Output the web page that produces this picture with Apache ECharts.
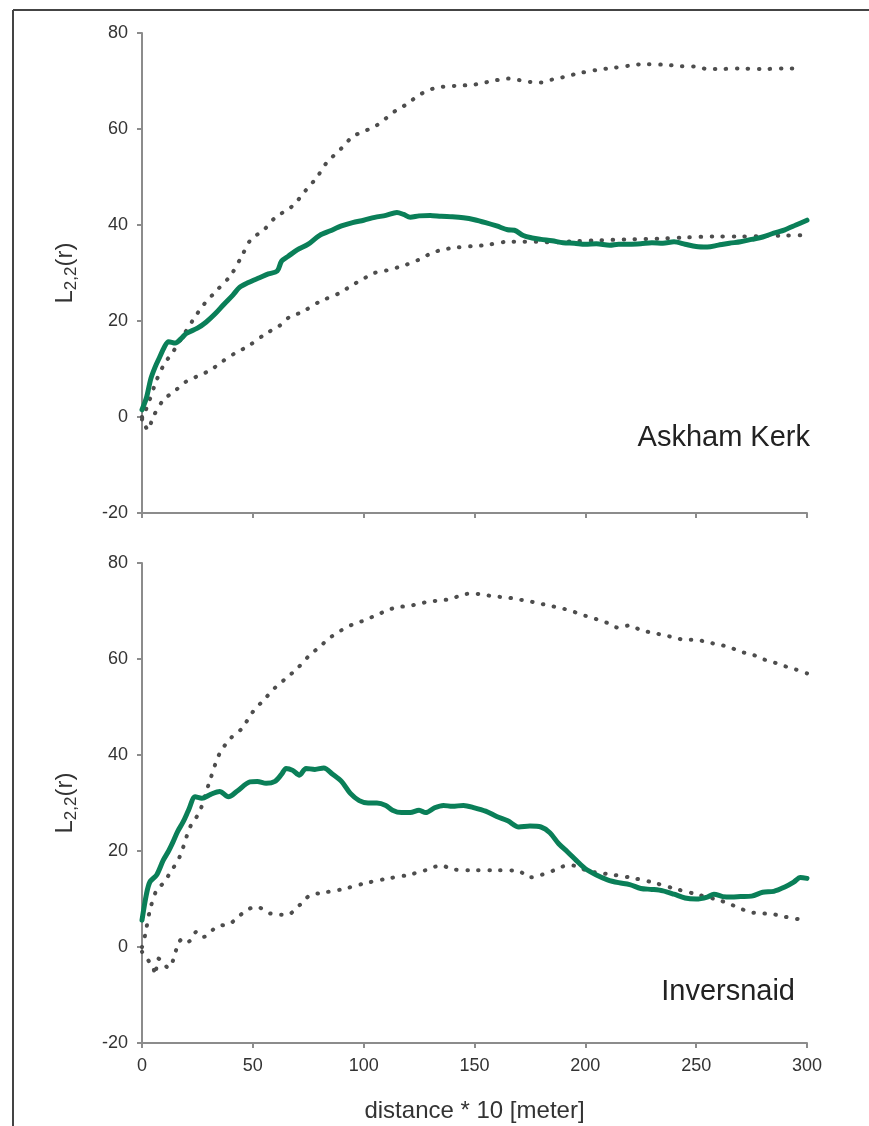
<!DOCTYPE html>
<html>
<head>
<meta charset="utf-8">
<script src="https://cdn.jsdelivr.net/npm/echarts@6/dist/echarts.min.js"></script>
<style>
html,body{margin:0;padding:0;background:#fff;}
#chart{width:869px;height:1126px;}
</style>
</head>
<body>
<div id="chart"></div>
<script>
const xTicks = [0, 50, 100, 150, 200, 250, 300];
const yTicks = [-20, 0, 20, 40, 60, 80];
const panelNames = ['Askham Kerk', 'Inversnaid'];

const askhamObserved = [[0,1.5],[2,4],[4,8],[6,10.5],[8,12.5],[10,14.5],[12,15.7],[15,15.4],[18,16.5],[20,17.4],[25,18.5],[29,19.8],[33,21.5],[37,23.5],[41,25.4],[44,27],[48,28],[53,29],[57,29.8],[61,30.4],[63,32.5],[66,33.5],[70,34.8],[75,36],[80,37.8],[85,38.8],[90,39.8],[95,40.5],[100,41],[105,41.6],[110,42],[115,42.6],[118,42.2],[121,41.6],[125,41.9],[130,42],[135,41.8],[140,41.7],[145,41.5],[150,41.1],[155,40.5],[160,39.8],[165,39],[168,38.9],[172,37.8],[176,37.3],[180,37],[185,36.7],[190,36.3],[195,36.2],[200,36],[205,36.1],[211,35.8],[215,36],[220,36],[225,36.1],[230,36.3],[235,36.2],[240,36.5],[245,36],[250,35.5],[255,35.4],[260,35.8],[265,36.2],[270,36.5],[275,37],[280,37.5],[285,38.3],[290,39],[295,40],[300,41]];
const askhamUpper = [[0,-0.5],[3,3],[6.6,7.7],[10,11],[14,13.6],[18,16.5],[23,20.2],[28,23.5],[34,26.5],[40,29.5],[45,33.5],[49,36.9],[55,39],[60,41.5],[68,44],[74,47.3],[79,50],[83,52.8],[90,56],[95,58.4],[100,59.5],[105,60.5],[110,62.2],[115,64],[120,65.3],[124,66.8],[128,67.8],[132,68.5],[136,68.8],[142,69],[149,69.2],[153,69.5],[158,70],[165,70.5],[170,70.2],[175,69.8],[180,69.7],[185,70.3],[190,70.8],[197,71.6],[205,72.3],[212,72.7],[220,73.2],[226,73.5],[235,73.4],[243,73.1],[250,73],[255,72.5],[260,72.5],[270,72.6],[280,72.5],[290,72.6],[297,72.6]];
const askhamLower = [[0,0],[2.7,-2.7],[5,0],[9.6,3.5],[15,5.5],[20,7.4],[25,8.5],[31,9.8],[36,11.5],[42,13.3],[48,14.8],[56,17.4],[62,19],[67,21],[72,21.8],[80,24],[89,25.8],[95,27.5],[100,28.8],[104,29.9],[110,30.5],[119,31.7],[125,32.8],[130,34],[135,34.8],[140,35.2],[149,35.6],[155,35.8],[165,36.5],[172,36.5],[178,36.5],[185,36.4],[195,36.6],[205,36.8],[220,37],[235,37.2],[245,37.4],[258,37.6],[270,37.6],[280,37.7],[290,37.8],[300,37.9]];

const inversObserved = [[0,5.6],[2,11],[3.6,13.6],[6.6,15],[9.6,18.1],[12,20],[14,21.9],[16,24],[18.6,26.1],[21,28.5],[24,31.3],[27,31],[31,31.8],[35,32.4],[39,31.3],[43,32.5],[48.7,34.4],[52,34.5],[56,34.1],[60,34.5],[63,36],[65,37.2],[68,36.8],[71,35.8],[74,37.2],[78,37],[82,37.3],[86,36],[90,34.5],[94,32],[98,30.5],[102,30],[106,30],[110,29.5],[113,28.5],[117,28],[121,28],[125,28.5],[128,28],[132,29],[136,29.5],[140,29.3],[145,29.5],[150,29],[155,28.3],[160,27.2],[165,26.3],[170,25],[175,25.2],[180,25],[184,23.8],[188,21.5],[192,19.8],[196,18],[200,16.3],[205,15],[210,14],[215,13.4],[220,13],[225,12.2],[230,12],[235,11.7],[240,11],[245,10.2],[250,10],[255,10.4],[258,11],[262,10.5],[266,10.4],[270,10.5],[275,10.6],[280,11.4],[285,11.6],[290,12.5],[294,13.5],[297,14.5],[300,14.3]];
const inversUpper = [[0,0],[1.4,2.5],[3.6,7.7],[6.6,11.9],[9.6,13.3],[12.6,15.4],[17,18.8],[21.7,25],[26,28.2],[30.7,34.8],[35,40.3],[40,43.5],[45,45.5],[50,49],[55,51.5],[60,54],[65,56],[70,58],[75,60.5],[80,62.5],[85,64.5],[90,66],[95,67.2],[100,68],[105,69],[110,70],[115,70.8],[120,71],[125,71.5],[130,72],[135,72.2],[140,72.6],[145,73.5],[150,73.6],[155,73.3],[160,73],[165,72.8],[170,72.4],[175,72],[180,71.5],[185,71],[190,70.5],[195,69.8],[200,69],[205,68.3],[210,67.5],[215,66.5],[220,67],[225,66],[230,65.5],[235,65],[240,64.5],[245,64],[250,64],[255,63.5],[260,63],[265,62.5],[270,61.5],[275,61],[280,60],[285,59.3],[290,58.5],[295,57.8],[300,57]];
const inversLower = [[0,-1],[2.7,-2.7],[5.1,-4.4],[5.9,-5.8],[7.4,-2.4],[9.6,-3.3],[11.9,-4.4],[14.1,-2.7],[16.4,0.8],[18.6,1.8],[20.9,1.1],[24.7,3.2],[27.7,2.1],[33.7,4.2],[39.7,4.9],[44,6.5],[47.2,7.7],[51.7,8.4],[57.7,7],[65.3,6.7],[71.3,8.8],[75.8,10.8],[80.3,11.2],[90,12],[100,13.2],[110,14.2],[120,15],[128,16],[135,17],[140,16.2],[150,16],[160,16],[170,15.8],[175,14.5],[180,15],[186,16],[192,17],[197,16.8],[200,16],[205,15.5],[210,15.2],[220,14.5],[230,13.5],[240,12.2],[250,11],[260,9.8],[265,9],[270,8],[275,7.2],[280,7],[285,6.8],[290,6.3],[300,5.5]];

const FONT = "'Liberation Sans', Arial, sans-serif";
const axisGray = '#8c8c8c';
const green = '#0a7f58';
const dotGray = '#4d4d4d';

function xAxisFor(gridIndex, showLabels) {
  return {
    type: 'value', gridIndex: gridIndex,
    min: xTicks[0], max: xTicks[xTicks.length - 1], interval: xTicks[1] - xTicks[0],
    axisLine: { onZero: false, lineStyle: { color: axisGray, width: 2 } },
    axisTick: { show: true, length: 5, lineStyle: { color: axisGray, width: 2 } },
    splitLine: { show: false },
    axisLabel: { show: showLabels, fontFamily: FONT, fontSize: 18, color: '#333', margin: 14 },
    name: showLabels ? 'distance * 10 [meter]' : '',
    nameLocation: 'middle', nameGap: 56,
    nameTextStyle: { fontFamily: FONT, fontSize: 24, color: '#333' }
  };
}
function yAxisFor(gridIndex) {
  return {
    type: 'value', gridIndex: gridIndex,
    min: yTicks[0], max: yTicks[yTicks.length - 1], interval: yTicks[1] - yTicks[0],
    axisLine: { onZero: false, lineStyle: { color: axisGray, width: 2 } },
    axisTick: { show: true, length: 5, lineStyle: { color: axisGray, width: 2 } },
    splitLine: { show: false },
    axisLabel: { fontFamily: FONT, fontSize: 18, color: '#333', margin: 14 },
    name: '{a|L}{b|2,2}{a|(r)}',
    nameLocation: 'middle', nameGap: 62,
    nameTextStyle: {
      fontFamily: FONT, color: '#333',
      rich: {
        a: { fontFamily: FONT, fontSize: 24, color: '#333', lineHeight: 30, verticalAlign: 'middle' },
        b: { fontFamily: FONT, fontSize: 17, color: '#333', lineHeight: 30, verticalAlign: 'bottom', padding: [10, 0, 0, 0] }
      }
    }
  };
}
function obsSeries(idx, data) {
  return { type: 'line', xAxisIndex: idx, yAxisIndex: idx, data: data, showSymbol: false, smooth: 0.3,
    lineStyle: { color: green, width: 5, cap: 'round', join: 'round' }, z: 3, animation: false };
}
function envSeries(idx, data) {
  return { type: 'line', xAxisIndex: idx, yAxisIndex: idx, data: data, showSymbol: false, smooth: 0.3,
    lineStyle: { color: dotGray, width: 4, type: [0.5, 10.5], cap: 'round' }, z: 2, animation: false };
}

const chart = echarts.init(document.getElementById('chart'), null, { renderer: 'canvas' });
chart.setOption({
  backgroundColor: '#fff',
  animation: false,
  grid: [
    { left: 142, top: 33, width: 665, height: 480 },
    { left: 142, top: 563, width: 665, height: 480 }
  ],
  xAxis: [xAxisFor(0, false), xAxisFor(1, true)],
  yAxis: [yAxisFor(0), yAxisFor(1)],
  series: [
    envSeries(0, askhamUpper), envSeries(0, askhamLower), obsSeries(0, askhamObserved),
    envSeries(1, inversUpper), envSeries(1, inversLower), obsSeries(1, inversObserved)
  ],
  graphic: [
    { type: 'line', shape: { x1: 13, y1: 10, x2: 13, y2: 1126 }, style: { stroke: '#444', lineWidth: 2 } },
    { type: 'line', shape: { x1: 13, y1: 10, x2: 869, y2: 10 }, style: { stroke: '#444', lineWidth: 2 } },
    { type: 'text', x: 810, y: 438, style: { text: panelNames[0], font: "29px 'Liberation Sans', Arial, sans-serif", fill: '#222', textAlign: 'right', textVerticalAlign: 'middle' } },
    { type: 'text', x: 795, y: 992, style: { text: panelNames[1], font: "29px 'Liberation Sans', Arial, sans-serif", fill: '#222', textAlign: 'right', textVerticalAlign: 'middle' } }
  ]
});
</script>
</body>
</html>
